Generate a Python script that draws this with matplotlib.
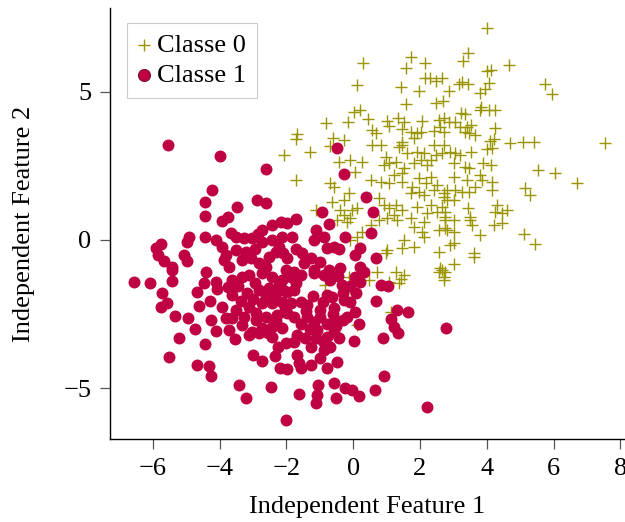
import matplotlib
matplotlib.use("Agg")
import matplotlib.pyplot as plt

plt.rcParams['font.family'] = ['Liberation Serif', 'DejaVu Serif']

# ---- data ----
class0_x = [0.30, 1.74, 1.57, 2.14, 0.12, 1.42, 1.97, 2.14, 2.29, 2.49, 2.67, 2.86, 1.57, 2.49, 2.70,
            0.02, 0.22, -0.80, -0.16, 0.44, 1.02, 1.07, 1.35, 1.52, 1.47, 1.72, 1.92, 2.02, 2.07, 2.57,
            2.71, 2.86, 2.41, 2.71, -1.69, -1.72, -0.60, -0.28, 0.57, 0.67, 1.47, 1.82,
            4.01, 3.44, 3.28, 4.01, 4.14, 4.68, 3.16, 3.26, 3.43, 4.06, 3.96, 3.81, 5.73, 5.94, 3.83,
            3.79, 4.06, 4.26, 3.23, 3.36, 3.06, 2.61, 3.21, 3.41, 3.53, 3.36, 3.46, 3.66, 4.26, 4.21,
            4.09, 4.71, 5.09, 5.43, 7.53,
            5.53, 6.05, 6.70, 5.14, 5.31, 3.53, 4.01, 4.16, 2.91, 3.06, 3.21, 3.01, 3.36, 3.46, 3.89,
            4.13, 3.01, 3.41, 3.79, 3.86, 4.16, 4.16, 3.66, 3.46, 3.26, 3.06, 2.81, 3.01, 2.71, 2.67,
            3.44, 4.31, 4.61, 4.46, 4.26, 3.51, 3.51, 3.56, 3.01, 2.76, 2.76, 4.21, 4.46, 5.11, 5.46,
            3.79, 2.81, 3.01, 2.91, 3.01, 3.61, 3.61, 3.03, 2.67, 2.71,
            -2.07, -1.30, -1.72, -0.68, -0.43, -0.08, 0.27, 0.07, -0.68, -0.58, -0.13, -0.28, 0.57,
            0.82, 1.37, 1.47, 1.62, 1.92, 2.12, 2.41, 2.67, 2.71, 0.97, 1.07, 0.92, 1.27, 1.52, 1.47,
            1.82, 2.02, 2.22, 2.32, 2.47, 0.52, 0.82, 1.07, 1.22, 1.47, 1.77, 1.97, 2.17, 2.32, 2.52,
            1.72, 1.97, 2.12, 2.41, 2.71, 2.81, 0.77, 0.92, 1.07, 1.27, 1.47, 1.22, 1.92, 2.32, 2.22,
            2.52, 2.76, -0.63, -0.38, -0.03, 0.12, -0.28, -0.48, -0.08, 0.27, 0.52, 0.77, 1.02, 1.32,
            1.72, 1.82, 2.12, 2.07, 2.57, 2.76, 1.52, 1.82, 2.12, 1.47, 1.02, 0.97, 2.57, 2.61, 2.76,
            1.52, 1.27, -0.08, 0.12, -1.12, -0.18,
            -0.83, 0.12, 1.12, 0.47, 0.72, 1.07, 1.37, 1.42, 2.71, 2.57, -0.13, -0.08]
class0_y = [5.99, 6.17, 5.80, 5.99, 5.24, 5.15, 5.03, 5.48, 5.46, 5.38, 5.48, 5.03, 4.58, 4.62, 4.70,
            4.31, 4.39, 3.94, 4.00, 4.09, 4.02, 3.85, 4.11, 3.98, 3.75, 3.66, 3.60, 3.66, 4.02, 4.05,
            4.13, 4.00, 3.68, 3.66, 3.57, 3.41, 3.44, 3.38, 3.72, 3.60, 3.32, 3.44,
            7.15, 6.33, 6.05, 5.71, 5.74, 5.91, 5.27, 5.35, 5.26, 5.29, 5.10, 4.96, 5.26, 4.92, 4.50,
            4.39, 4.39, 4.39, 4.28, 4.25, 3.98, 3.83, 3.83, 3.83, 3.89, 3.66, 3.60, 3.55, 3.77, 3.41,
            3.34, 3.27, 3.32, 3.30, 3.27,
            2.36, 2.25, 1.94, 1.75, 1.52, 2.98, 3.06, 3.10, 2.98, 2.93, 2.87, 2.59, 2.48, 2.42, 2.59,
            2.53, 2.14, 2.03, 2.20, 2.03, 1.97, 1.69, 1.80, 1.63, 1.63, 1.69, 1.69, 1.35, 1.46, 1.13,
            1.07, 1.18, 1.01, 0.90, 0.96, 0.79, 0.68, 0.51, 0.68, 0.96, 0.68, 0.51, 0.56, 0.20, -0.15,
            0.17, 0.34, 0.28, -0.17, -0.11, -0.45, -0.56, -0.81, -1.01, -1.24,
            2.87, 2.98, 2.03, 3.18, 2.65, 2.70, 2.65, 2.31, 1.92, 1.80, 1.58, 1.35, 3.21,
            3.21, 3.15, 3.21, 2.93, 2.98, 2.93, 3.21, 2.93, 3.21, 2.81, 2.59, 2.53, 2.65, 2.42, 2.25,
            2.59, 2.70, 2.53, 2.70, 2.87, 2.03, 1.97, 1.92, 2.20, 1.97, 1.80, 2.08, 1.92, 2.14, 1.86,
            1.58, 1.63, 1.52, 1.69, 1.58, 1.35, 1.41, 1.18, 1.07, 1.18, 1.01, 0.84, 1.13, 1.18, 0.90,
            0.96, 0.79, 1.29, 1.01, 1.01, 1.07, 0.84, 0.68, 0.73, 0.28, 0.51, 0.68, 0.73, 0.68,
            0.73, 0.45, 0.62, 0.28, 0.34, 0.39, 0.00, -0.23, 0.11, -0.28, -0.34, -0.45, -0.39, -0.96, -1.07,
            -1.18, -1.07, 0.00, 0.11, 1.01, 0.62,
            -1.52, -2.87, -2.42, -1.35, -1.07, -1.41, -1.46, -1.33, -1.35, -1.07, -1.24, -1.63]

class1_x = [-5.53, -4.00, -2.60, -4.24, -4.45, -4.44, -3.47, -2.87, -2.62, -3.92, -3.74, -4.44, -4.91,
            -4.96, -5.76, -5.91, -5.83, -5.66, -5.43, -5.06, -4.98, -4.42, -4.12, -3.92, -3.82, -3.52,
            -3.27, -3.02, -2.72, -2.42, -2.17, -1.97, -2.72, -2.42, -2.12, -2.22, -1.97, -3.87, -3.72,
            -3.32, -3.07, -2.82, -2.52, -2.62,
            -0.48, -0.26, 0.39, 0.59, -0.92, -0.73, 0.52, 0.67, -1.72, -1.82, -1.12, -0.88, -1.18,
            -0.23, -0.58, -0.43, -0.77, 0.22, 0.07, -1.52, -1.27, -1.47, -0.98, -0.38, -0.73, -1.18,
            -1.77, 0.22, 0.32,
            -6.56, -6.08, -5.41, -5.71, -5.76, -5.56, -5.34, -4.94, -4.73, -5.21, -4.45, -5.51, -4.68,
            -4.33, -4.27, -3.42, -3.20, -2.47, -2.02, -2.99, -2.72, -2.35, -2.19, -1.97, -4.61, -4.27,
            -4.12, -3.72, -3.54, -4.68, -4.47, -4.10, -4.07, -5.41, -4.29, -3.82, -3.12, -2.82, -2.42,
            -2.02, -3.62, -3.32, -3.12, -2.72, -2.42, -2.12, -3.62, -3.17, -2.82, -2.52, -2.22, -1.97,
            -3.92, -3.52, -3.12, -2.72, -2.42, -2.12, -3.62, -3.27, -2.92, -2.62, -2.27, -1.97, -3.32,
            -3.02, -2.72, -2.42, -2.12,
            -1.87, -1.57, -1.18, -0.88, -0.68, 0.07, 0.22, -0.33, 0.82, 1.04, -1.77, -0.77, -0.63,
            -1.87, -1.57, -1.37, -0.28, -0.08, 0.69, -0.98, -0.58, 0.07, 1.30, 1.65, 1.12, 1.22, 1.34,
            0.17, -0.30, -0.18, -1.77, -1.37, -1.57, -1.18, -0.77, -0.53, -1.67, -1.77, -1.07, -0.77,
            -0.58, -0.43, -1.25, 0.04, 0.89, 2.78, -0.68, -0.88, -1.67, -1.62, -1.57, -1.27, -0.98,
            -0.77, -0.48, 0.93, 0.65, -0.58, -0.23, -0.03, 0.17, -0.50, -1.04, -1.07, -1.12, -1.62, 2.22,
            -2.00, -1.70, -2.10, -1.20, -0.90, -1.40, -1.00, -0.60, -1.30, -0.90, -0.50, -1.45, -1.10,
            -0.30, -0.45, 0.10, -0.10, -3.45, -2.95, -2.60, -3.35, -2.90, -2.30, -3.75, -2.55, -2.25,
            -3.00, -2.05, -2.35, -3.50, -3.20, -2.95, -2.30, -2.85, -3.65, -2.10, -1.70]
class1_y = [3.21, 2.82, 2.39, 1.68, 1.29, 0.81, 1.13, 1.35, 1.24, 0.65, 0.79, 0.11, 0.11,
            -0.06, -0.14, -0.28, -0.51, -0.70, -0.90, -0.51, -0.70, -1.07, 0.00, -0.23, -0.51, 0.11,
            0.06, 0.06, 0.34, 0.51, 0.62, 0.56, -0.06, 0.00, 0.11, -0.23, -0.62, -0.68, -0.90,
            -0.68, -0.62, -0.79, -0.56, -0.90,
            3.10, 2.22, 1.46, 0.96, 0.96, 0.54, 0.23, -0.62, 0.70, 0.09, 0.34, 0.09, 0.00,
            0.09, -0.23, -0.31, -0.28, -0.28, -0.51, -0.45, -0.62, -0.79, -0.73, -0.96, -1.01, -1.01,
            -1.07, -0.90, -1.07,
            -1.43, -1.46, -1.39, -1.80, -2.27, -2.14, -2.57, -2.62, -3.02, -3.32, -3.50, -3.96, -4.21,
            -4.26, -4.58, -4.90, -5.33, -4.96, -6.08, -3.90, -4.08, -3.92, -4.31, -4.37, -2.22, -2.70,
            -3.07, -3.04, -3.34, -1.75, -1.46, -1.41, -1.67, -1.01, -2.06, -2.65, -3.21, -3.15, -3.27,
            -3.49, -1.35, -1.24, -1.18, -1.13, -1.24, -1.35, -1.86, -1.80, -1.69, -1.63, -1.52, -1.75,
            -2.25, -2.36, -2.25, -2.14, -2.14, -2.08, -2.65, -2.59, -2.70, -2.59, -2.53, -2.48, -2.87,
            -3.10, -2.98, -2.93, -2.98,
            -1.24, -1.18, -1.13, -1.18, -1.35, -1.24, -1.41, -1.52, -1.52, -1.55, -1.69, -1.86, -1.91,
            -2.14, -2.08, -2.20, -2.03, -2.08, -2.06, -2.36, -2.31, -2.42, -2.36, -2.44, -2.68, -2.93, -3.13,
            -2.82, -2.70, -2.59, -2.59, -2.59, -2.82, -2.76, -2.82, -2.70, -3.21, -3.44, -3.04, -3.27,
            -3.10, -3.32, -3.60, -3.41, -3.32, -2.98, -3.60, -3.72, -3.89, -4.17, -4.33, -4.22, -4.00,
            -4.33, -4.11, -4.59, -5.05, -4.82, -5.01, -5.05, -5.27, -5.33, -4.90, -5.24, -5.52, -5.21, -5.65,
            -1.00, -1.45, -1.70, -1.90, -2.10, -2.40, -2.60, -2.50, -3.00, -3.40, -2.90, -3.30, -3.30,
            -1.80, -1.20, -1.80, -1.55, -1.55, -1.45, -1.90, -2.05, -2.45, -2.75, -1.60, -3.15, -3.60,
            -2.00, -2.30, -1.85, -0.35, -0.40, -0.30, -0.40, 0.20, 0.25, -0.45, -0.30]

labels = ["Classe 0", "Classe 1"]
xticks = [-6, -4, -2, 0, 2, 4, 6, 8]
yticks = [-5, 0, 5]

olive = "#9a9400"
crimson = "#bf0042"
FS = 19

fig = plt.figure(figsize=(6.25, 5.22), dpi=100)
ax = fig.add_axes([0.176, 0.159, 0.824, 0.826])

ax.scatter(class0_x, class0_y, marker='+', s=80, c=olive, linewidths=1.0, label=labels[0], zorder=2)
ax.scatter(class1_x, class1_y, marker='o', s=74, c=crimson, linewidths=0, label=labels[1], zorder=3)

ax.set_xlim(-7.28, 8.14)
ax.set_ylim(-6.72, 7.84)
ax.set_xticks(xticks)
ax.set_yticks(yticks)
ax.set_xticklabels([str(t).replace('-', '\u2212') for t in xticks])
ax.set_yticklabels([str(t).replace('-', '\u2212') for t in yticks])

for s in ['top', 'right']:
    ax.spines[s].set_visible(False)
for s in ['left', 'bottom']:
    ax.spines[s].set_linewidth(1.0)
    ax.spines[s].set_color('black')

ax.tick_params(axis='both', direction='out', length=7.5, width=0.9, color='#555555',
               labelsize=FS, pad=6, labelcolor='black')

ax.set_xlabel("Independent Feature 1", fontsize=FS, labelpad=12)
ax.set_ylabel("Independent Feature 2", fontsize=FS, labelpad=20)

leg = ax.legend(loc='upper left', bbox_to_anchor=(0.033, 0.965), fontsize=FS, frameon=True,
                fancybox=False, edgecolor='#cccccc', framealpha=1, handlelength=0.5,
                handletextpad=0.25, borderpad=0.4, labelspacing=0.25, borderaxespad=0)
leg.get_frame().set_linewidth(0.8)
leg.legend_handles[1].set_edgecolor('#7a1030')
leg.legend_handles[1].set_linewidth(0.8)

fig.savefig("out.png", dpi=100)
